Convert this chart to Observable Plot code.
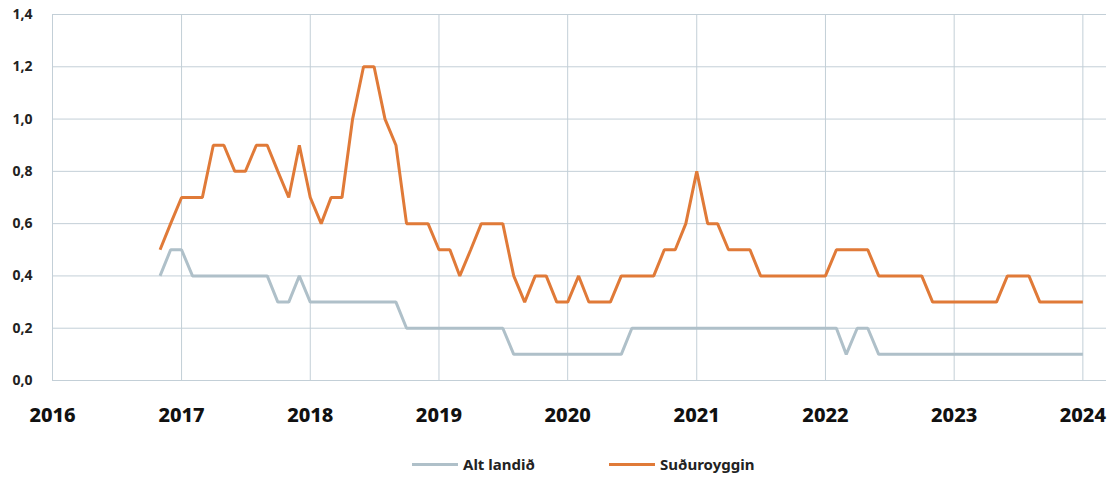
<!DOCTYPE html>
<html>
<head>
<meta charset="utf-8">
<script src="https://cdn.jsdelivr.net/npm/d3@7"></script>
<script src="https://cdn.jsdelivr.net/npm/@observablehq/plot@0.6"></script>
<style>
  body { margin: 0; background: #fff; font-family: "Noto Sans", "DejaVu Sans", sans-serif; }
  #chart svg { display: block; }
  .legend { position: relative; height: 44px; font-weight: 700; font-size: 15px; color: #222; }
  .item { position: absolute; top: 14px; display: flex; align-items: center; }
  .sw { width: 46px; height: 3px; margin-right: 5px; }
</style>
</head>
<body>
<div id="chart"></div>
<div class="legend" id="legend"></div>
<script>
// Monthly observations, Nov 2016 – Jan 2024
const startMonth = "2016-11-01";
const endMonth = "2024-02-01";
const seriesNames = ["Alt landið", "Suðuroyggin"];
const seriesColors = ["#afc0c9", "#e07a38"];
const yearTicks = [2016, 2017, 2018, 2019, 2020, 2021, 2022, 2023, 2024];
const yTicks = [0, 0.2, 0.4, 0.6, 0.8, 1.0, 1.2, 1.4];

const altLandid = [
  0.4, 0.5,
  0.5, 0.4, 0.4, 0.4, 0.4, 0.4, 0.4, 0.4, 0.4, 0.3, 0.3, 0.4,
  0.3, 0.3, 0.3, 0.3, 0.3, 0.3, 0.3, 0.3, 0.3, 0.2, 0.2, 0.2,
  0.2, 0.2, 0.2, 0.2, 0.2, 0.2, 0.2, 0.1, 0.1, 0.1, 0.1, 0.1,
  0.1, 0.1, 0.1, 0.1, 0.1, 0.1, 0.2, 0.2, 0.2, 0.2, 0.2, 0.2,
  0.2, 0.2, 0.2, 0.2, 0.2, 0.2, 0.2, 0.2, 0.2, 0.2, 0.2, 0.2,
  0.2, 0.2, 0.1, 0.2, 0.2, 0.1, 0.1, 0.1, 0.1, 0.1, 0.1, 0.1,
  0.1, 0.1, 0.1, 0.1, 0.1, 0.1, 0.1, 0.1, 0.1, 0.1, 0.1, 0.1,
  0.1
];
const suduroyggin = [
  0.5, 0.6,
  0.7, 0.7, 0.7, 0.9, 0.9, 0.8, 0.8, 0.9, 0.9, 0.8, 0.7, 0.9,
  0.7, 0.6, 0.7, 0.7, 1.0, 1.2, 1.2, 1.0, 0.9, 0.6, 0.6, 0.6,
  0.5, 0.5, 0.4, 0.5, 0.6, 0.6, 0.6, 0.4, 0.3, 0.4, 0.4, 0.3,
  0.3, 0.4, 0.3, 0.3, 0.3, 0.4, 0.4, 0.4, 0.4, 0.5, 0.5, 0.6,
  0.8, 0.6, 0.6, 0.5, 0.5, 0.5, 0.4, 0.4, 0.4, 0.4, 0.4, 0.4,
  0.4, 0.5, 0.5, 0.5, 0.5, 0.4, 0.4, 0.4, 0.4, 0.4, 0.3, 0.3,
  0.3, 0.3, 0.3, 0.3, 0.3, 0.4, 0.4, 0.4, 0.3, 0.3, 0.3, 0.3,
  0.3
];

const months = d3.utcMonth.range(new Date(startMonth), new Date(endMonth));
const rows = [];
months.forEach((d, i) => {
  rows.push({date: d, value: altLandid[i], series: seriesNames[0]});
  rows.push({date: d, value: suduroyggin[i], series: seriesNames[1]});
});
const yearDates = yearTicks.map(y => new Date(Date.UTC(y, 0, 1)));
const gridColor = "#c3cfd7";

const chart = Plot.plot({
  width: 1112,
  height: 440,
  marginLeft: 52,
  marginRight: 6,
  marginTop: 14,
  marginBottom: 60,
  style: {fontFamily: "'Noto Sans', 'DejaVu Sans', sans-serif", background: "#fff"},
  x: {type: "utc", domain: [new Date(Date.UTC(2016,0,1)), new Date(Date.UTC(2024,2,8))]},
  y: {domain: [0, 1.4]},
  color: {domain: seriesNames, range: seriesColors},
  marks: [
    Plot.gridY(yTicks, {stroke: gridColor, strokeOpacity: 1}),
    Plot.gridX(yearDates, {stroke: gridColor, strokeOpacity: 1}),
    Plot.axisY(yTicks, {tickSize: 0, tickPadding: 20, fontSize: 14, fontWeight: 700, fill: "#222",
      tickFormat: d => d3.format(".1f")(d).replace(".", ","), label: null}),
    Plot.axisX(yearDates, {tickSize: 0, tickPadding: 27, fontSize: 20, fontWeight: 800, fill: "#111",
      tickFormat: d => String(d.getUTCFullYear()), label: null}),
    Plot.lineY(rows, {x: "date", y: "value", stroke: "series", strokeWidth: 3, strokeLinejoin: "miter", strokeLinecap: "butt"})
  ]
});
document.getElementById("chart").appendChild(chart);

const legend = document.getElementById("legend");
const legendLeft = [412, 609];
seriesNames.forEach((name, i) => {
  const item = document.createElement("div");
  item.className = "item";
  item.style.left = legendLeft[i] + "px";
  const sw = document.createElement("div");
  sw.className = "sw";
  sw.style.background = seriesColors[i];
  const t = document.createElement("span");
  t.textContent = name;
  item.appendChild(sw);
  item.appendChild(t);
  legend.appendChild(item);
});
</script>
</body>
</html>
